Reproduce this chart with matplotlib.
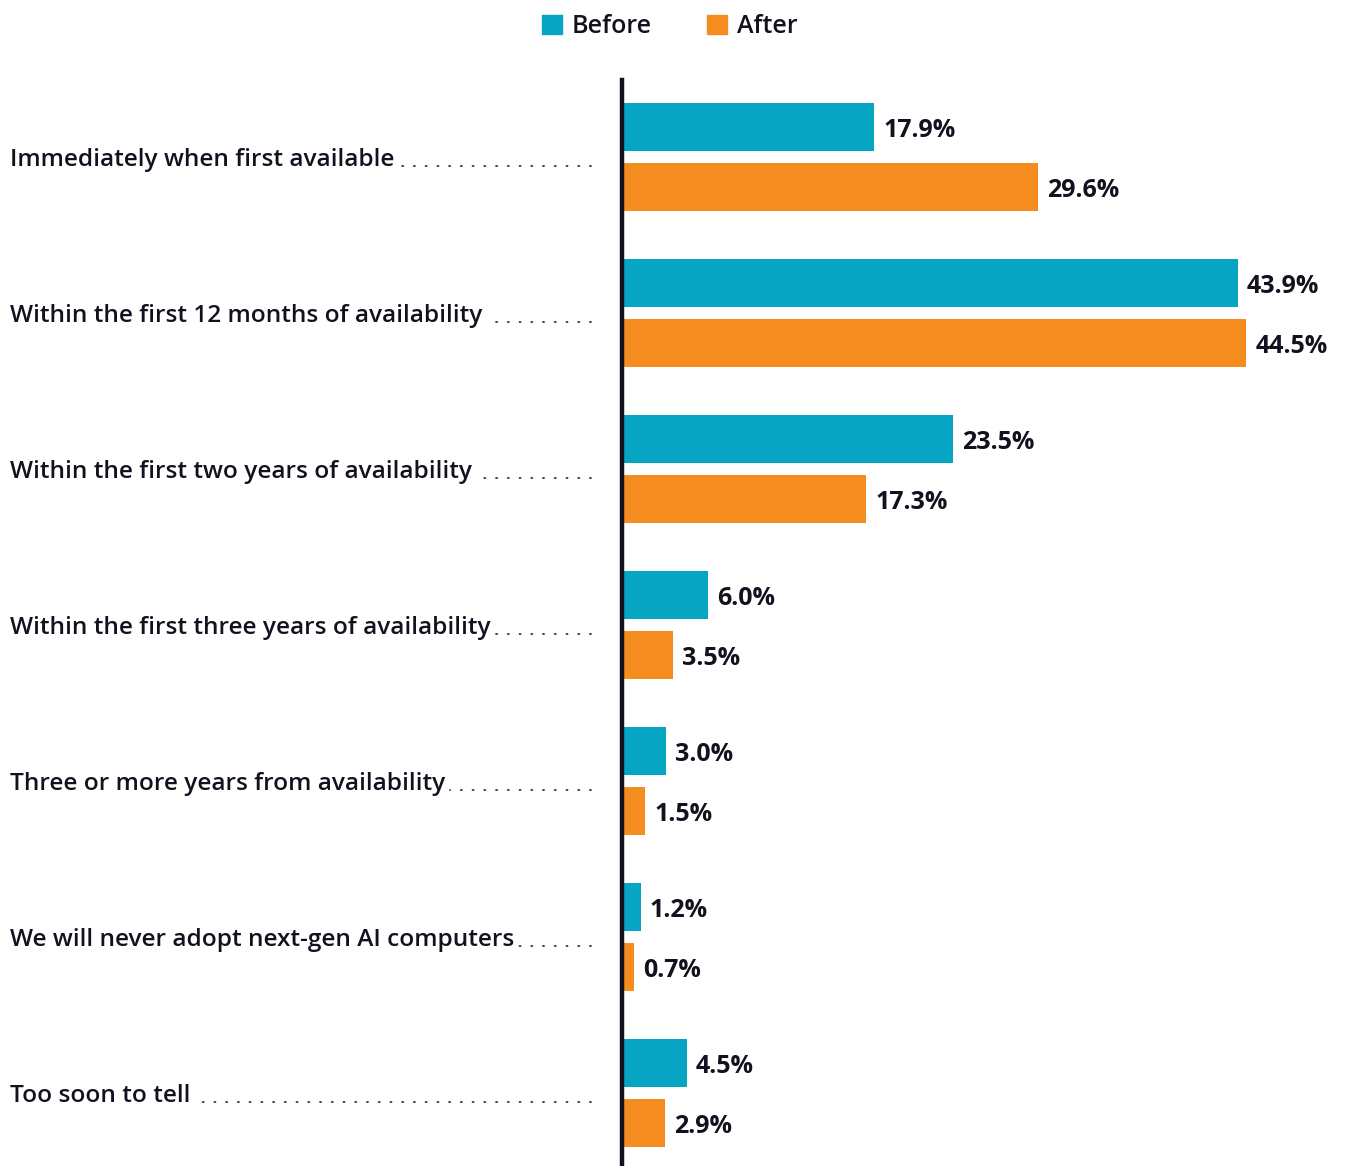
import matplotlib
matplotlib.use("Agg")
import matplotlib.pyplot as plt
from matplotlib.patches import Patch
from matplotlib.lines import Line2D
import numpy as np

# data
categories = [
    "Immediately when first available",
    "Within the first 12 months of availability",
    "Within the first two years of availability",
    "Within the first three years of availability",
    "Three or more years from availability",
    "We will never adopt next-gen AI computers",
    "Too soon to tell",
]
before = [17.9, 43.9, 23.5, 6.0, 3.0, 1.2, 4.5]
after = [29.6, 44.5, 17.3, 3.5, 1.5, 0.7, 2.9]
series_names = ["Before", "After"]

teal = "#06A5C3"
orange = "#F58C20"
ink = "#12121f"

plt.rcParams['font.family'] = ['Open Sans', 'DejaVu Sans']

fig = plt.figure(figsize=(13.56, 11.66), dpi=100)
W, H = 1356, 1166
ax = fig.add_axes([622 / W, 0, (W - 622) / W, (1166 - 80) / H])

y = np.arange(len(categories))
off = 30 / 156
h = 48 / 156
ax.barh(y - off, before, height=h, color=teal, left=0.15)
ax.barh(y + off, after, height=h, color=orange, left=0.15)

for i in range(len(categories)):
    ax.text(before[i] + 0.8, y[i] - off + 0.022, f"{before[i]:.1f}%", va="center", ha="left",
            fontsize=18, fontweight="bold", color=ink)
    ax.text(after[i] + 0.8, y[i] + off + 0.022, f"{after[i]:.1f}%", va="center", ha="left",
            fontsize=18, fontweight="bold", color=ink)

ax.set_xlim(0, (W - 622) / 13.98)
ax.set_ylim((1166 - 157) / 156, (80 - 157) / 156)
ax.set_xticks([])
ax.set_yticks([])
for s in ["top", "right", "bottom"]:
    ax.spines[s].set_visible(False)
ax.spines["left"].set_linewidth(3.2)
ax.spines["left"].set_color(ink)

# category labels with dot leaders
labels = []
for i, c in enumerate(categories):
    t = ax.text(-612 / 13.98, y[i] + 0.022, c, ha="left", va="center", fontsize=17.6,
                fontweight="semibold", color=ink)
    labels.append(t)

fig.canvas.draw()
r = fig.canvas.get_renderer()
for i, t in enumerate(labels):
    bb = t.get_window_extent(r)
    ypix = bb.y0 + 6
    x0 = bb.x1 + 5
    x1 = 591
    if x1 > x0:
        # draw from the right end so the leaders all stop at the same spot
        ln = Line2D([x1, x0], [ypix, ypix], transform=None, color="#333333",
                    linewidth=1.3, linestyle=(0, (0.6, 5.9)), dash_capstyle="round")
        fig.add_artist(ln)

handles = [Patch(color=teal), Patch(color=orange)]
fig.legend(handles, series_names, loc="upper center", bbox_to_anchor=(0.494, 1.007),
           ncol=2, frameon=False, handlelength=0.8, handleheight=0.8,
           handletextpad=0.4, columnspacing=2.2, labelcolor=ink,
           prop={"weight": "semibold", "size": 18})

fig.savefig("out.png", dpi=100)
